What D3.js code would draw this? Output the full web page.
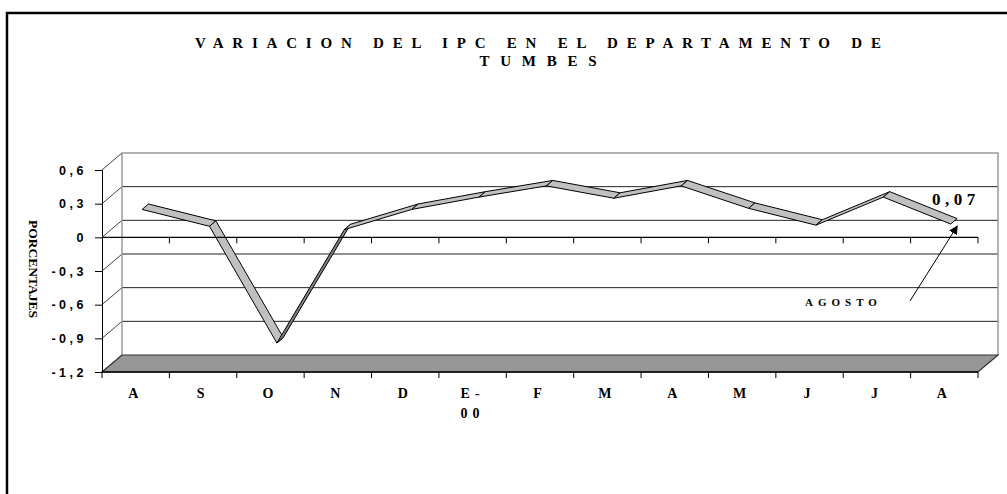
<!DOCTYPE html>
<html>
<head>
<meta charset="utf-8">
<script src="https://cdn.jsdelivr.net/npm/d3@7"></script>
<style>
body { margin: 0; background: #fff; }
svg { display: block; }
.serif { font-family: "Liberation Serif", "Times New Roman", serif; font-weight: bold; }
.sans { font-family: "Liberation Sans", Arial, sans-serif; font-weight: bold; }
</style>
</head>
<body>
<div id="chart"></div>
<script>
// data
const months = ["A", "S", "O", "N", "D", "E-00", "F", "M", "A", "M", "J", "J", "A"];
const ipc = [0.20, 0.05, -0.99, 0.02, 0.20, 0.31, 0.41, 0.30, 0.41, 0.21, 0.06, 0.31, 0.07];
const yTicks = [-1.2, -0.9, -0.6, -0.3, 0, 0.3, 0.6];
const titleLines = ["VARIACION DEL IPC EN EL DEPARTAMENTO DE", "TUMBES"];
const yLabel = "PORCENTAJES";
const lastLabel = "0,07";
const noteLabel = "AGOSTO";

const W = 1007, H = 494;
const svg = d3.select("#chart").append("svg")
    .attr("width", W).attr("height", H);

// arrow head
svg.append("defs").append("marker")
    .attr("id", "arrow")
    .attr("viewBox", "0 0 10 10")
    .attr("refX", 9).attr("refY", 5)
    .attr("markerWidth", 9).attr("markerHeight", 9)
    .attr("markerUnits", "userSpaceOnUse")
    .attr("orient", "auto")
    .append("path").attr("d", "M0,0 L10,5 L0,10 z").attr("fill", "#000");

// outer frame (right/bottom edge are outside the picture)
svg.append("rect")
    .attr("x", 7).attr("y", 13)
    .attr("width", 1100).attr("height", 600)
    .attr("fill", "none").attr("stroke", "#000").attr("stroke-width", 2.5);

// plot geometry: front plane + depth offset
const front = {left: 102, right: 978, top: 170, bottom: 372};
const depth = {dx: 20, dy: -17};
const ribbon = [0.32, 0.64]; // ribbon front/back depth fractions

const x = d3.scaleBand()
    .domain(d3.range(months.length))
    .range([front.left, front.right]);
const y = d3.scaleLinear()
    .domain([-1.2, 0.6])
    .range([front.bottom, front.top]);

const g = svg.append("g");

// back wall gridlines
const inner = yTicks.slice(1, -1);
g.selectAll(".grid").data(inner).join("line")
    .attr("x1", front.left + depth.dx).attr("x2", front.right + depth.dx)
    .attr("y1", d => y(d) + depth.dy).attr("y2", d => y(d) + depth.dy)
    .attr("stroke", "#222").attr("stroke-width", 1);

// side wall diagonals
g.selectAll(".diag").data(yTicks).join("line")
    .attr("x1", front.left).attr("y1", d => y(d))
    .attr("x2", front.left + depth.dx).attr("y2", d => y(d) + depth.dy)
    .attr("stroke", "#444").attr("stroke-width", 1);

// back wall frame
g.append("path")
    .attr("d", `M${front.left + depth.dx},${y(-1.2) + depth.dy} V${y(0.6) + depth.dy} H${front.right + depth.dx} V${y(-1.2) + depth.dy}`)
    .attr("fill", "none").attr("stroke", "#999").attr("stroke-width", 1.5);

// floor
g.append("path")
    .attr("d", `M${front.left},${front.bottom} L${front.right},${front.bottom} L${front.right + depth.dx},${front.bottom + depth.dy} L${front.left + depth.dx},${front.bottom + depth.dy} Z`)
    .attr("fill", "#969696").attr("stroke", "#333").attr("stroke-width", 1.2);

// 3D ribbon
const cx = i => x(i) + x.bandwidth() / 2;
const at = (i, f) => [cx(i) + f * depth.dx, y(ipc[i]) + f * depth.dy];
const segs = d3.range(ipc.length - 1);
g.selectAll(".seg").data(segs).join("path")
    .attr("d", i => {
        const pts = [at(i, ribbon[0]), at(i + 1, ribbon[0]), at(i + 1, ribbon[1]), at(i, ribbon[1])];
        return "M" + pts.join("L") + "Z";
    })
    .attr("fill", i => {
        const sx = cx(i + 1) - cx(i), sy = y(ipc[i + 1]) - y(ipc[i]);
        const cross = sx * depth.dy - sy * depth.dx;
        return cross > 0 ? "#808080" : "#c0c0c0";
    })
    .attr("stroke", "#000").attr("stroke-width", 1).attr("stroke-linejoin", "round");

// y axis
const yAxis = d3.axisLeft(y)
    .tickValues(yTicks)
    .tickSize(7)
    .tickPadding(8)
    .tickFormat(d => d === 0 ? "0" : d.toFixed(1).replace(".", ","));
const yAxisG = svg.append("g")
    .attr("transform", `translate(${front.left},0)`)
    .call(yAxis);
yAxisG.select(".domain").attr("stroke", "#000");
yAxisG.selectAll("text")
    .attr("class", "sans")
    .attr("font-size", 12.5)
    .attr("letter-spacing", "3.5px")
    .attr("fill", "#000");

// bottom category axis (front edge of the floor)
const edges = d3.range(months.length + 1).map(k => front.left + k * x.step());
const xAxisG = svg.append("g");
xAxisG.append("line")
    .attr("x1", front.left).attr("x2", front.right)
    .attr("y1", front.bottom).attr("y2", front.bottom)
    .attr("stroke", "#000").attr("stroke-width", 1.5);
xAxisG.selectAll(".tk").data(edges).join("line")
    .attr("x1", d => d).attr("x2", d => d)
    .attr("y1", front.bottom).attr("y2", front.bottom + 6)
    .attr("stroke", "#000");

// zero line with ticks, in front of the ribbon
const zeroG = svg.append("g");
zeroG.append("line")
    .attr("x1", front.left).attr("x2", front.right)
    .attr("y1", y(0)).attr("y2", y(0))
    .attr("stroke", "#000").attr("stroke-width", 1.3);
zeroG.selectAll(".tk").data(edges.slice(1)).join("line")
    .attr("x1", d => d).attr("x2", d => d)
    .attr("y1", y(0)).attr("y2", y(0) + 6)
    .attr("stroke", "#000");

// category labels
const lab = svg.append("g").attr("class", "serif").attr("font-size", 14).attr("text-anchor", "middle");
months.forEach((m, i) => {
    const parts = m.includes("-") ? [m.split("-")[0] + "-", m.split("-")[1]] : [m];
    const t = lab.append("text")
        .attr("x", cx(i)).attr("y", 398)
        .attr("letter-spacing", "5px");
    parts.forEach((p, j) => {
        t.append("tspan").attr("x", cx(i)).attr("dy", j === 0 ? 0 : 20).text(p);
    });
});

// title
svg.selectAll(".title").data(titleLines).join("text")
    .attr("class", "serif")
    .attr("x", 538).attr("y", (d, i) => 48 + i * 18)
    .attr("text-anchor", "middle")
    .attr("font-size", 15)
    .attr("textLength", (d, i) => i === 0 ? 686 : 117)
    .attr("lengthAdjust", "spacing")
    .text(d => d);

// y axis title
svg.append("text")
    .attr("class", "serif")
    .attr("font-size", 13.5)
    .attr("text-anchor", "middle")
    .attr("transform", "translate(29,269) rotate(90)")
    .text(yLabel);

// last value annotation
const last = ipc.length - 1;
svg.append("text")
    .attr("class", "serif")
    .attr("font-size", 17)
    .attr("letter-spacing", "4.5px")
    .attr("x", 932).attr("y", 205)
    .text(lastLabel);

svg.append("text")
    .attr("class", "serif")
    .attr("font-size", 11)
    .attr("letter-spacing", "5px")
    .attr("x", 805).attr("y", 306)
    .text(noteLabel);

const tip = at(last, 0.5);
svg.append("line")
    .attr("x1", 910).attr("y1", 301)
    .attr("x2", tip[0] + 3).attr("y2", tip[1] + 5)
    .attr("stroke", "#000").attr("stroke-width", 1)
    .attr("marker-end", "url(#arrow)");
</script>
</body>
</html>
